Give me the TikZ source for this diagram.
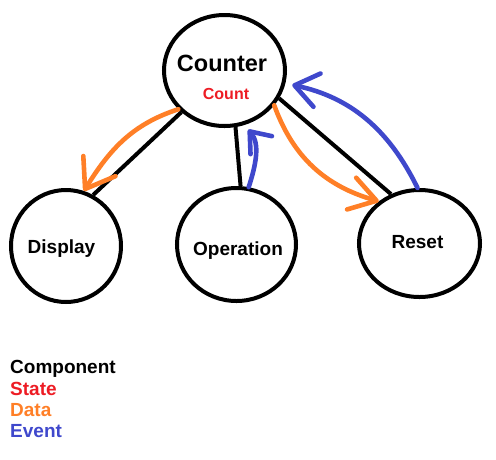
\documentclass[tikz,border=0pt]{standalone}
\usepackage{fontspec}
\setmainfont{Liberation Sans}
\usetikzlibrary{arrows.meta,shapes.geometric}
\definecolor{statered}{RGB}{237,28,36}
\definecolor{dataorange}{RGB}{255,127,39}
\definecolor{eventblue}{RGB}{63,72,204}
\tikzset{
	comp/.style={draw=black, line width=4pt, ellipse, inner sep=0pt},
	compname/.style={font=\fontsize{19}{22}\selectfont\bfseries, text depth=0pt, inner sep=0pt},
	link/.style={line width=4pt, color=black},
	dataflow/.style={line width=4.6pt, color=dataorange, line cap=round},
	eventflow/.style={line width=4.6pt, color=eventblue, line cap=round},
	barb/.style 2 args={-{Straight Barb[length=#1, width=#2, round]}},
	legend/.style={anchor=base west, inner sep=0pt, font=\fontsize{19}{22}\selectfont\bfseries}
}
\begin{document}
\begin{tikzpicture}[x=1pt, y=-1pt]
		%%%%% START %%%%%
		\useasboundingbox (0, 0) rectangle (496, 459);
		
		\node[comp, minimum width=121pt, minimum height=111pt] (counter) at (224.5, 70.5) {};
		\node[comp, minimum width=110pt, minimum height=112pt] (display) at (66, 246) {};
		\node[comp, minimum width=119pt, minimum height=113pt] (operation) at (236.5, 244.5) {};
		\node[comp, minimum width=121pt, minimum height=107pt] (reset) at (419.5, 243.5) {};
		
		\node[compname, font=\fontsize{23.5}{28}\selectfont\bfseries] (countername) at (222, 63.5) {Counter};
		\node[compname, font=\fontsize{16}{19}\selectfont\bfseries, color=statered] (countstate) at (226, 93.5) {Count};
		\node[compname] (displayname) at (61.5, 247) {Display};
		\node[compname] (operationname) at (238, 248.5) {Operation};
		\node[compname] (resetname) at (417.5, 242) {Reset};
		
		\draw[link] (counter.224) -- (display.62);
		\draw[link] (counter.-79) -- (operation.86);
		\draw[link] (counter.-27) -- (reset.120);
		
		\draw[dataflow, barb={27pt}{38pt}] (counter.220) to[out=198, in=58] (display.72);
		\draw[dataflow, barb={26pt}{33pt}] (counter.-35) to[out=-70, in=164] (reset.134);
		\draw[eventflow, barb={23pt}{34pt}, shorten >=7pt] (reset.92) to[out=116, in=-12] (counter.-12);
		\draw[eventflow, barb={18pt}{28pt}, shorten >=6pt] (operation.78) to[out=72, in=-50] (counter.-70);
		
		\node[legend] (legcomp) at (10, 373.5) {Component};
		\node[legend, color=statered] (legstate) at (10, 395) {State};
		\node[legend, color=dataorange] (legdata) at (10, 416) {Data};
		\node[legend, color=eventblue] (legevent) at (10, 437) {Event};
		
		%%%%% END %%%%%
	\end{tikzpicture}
\end{document}
